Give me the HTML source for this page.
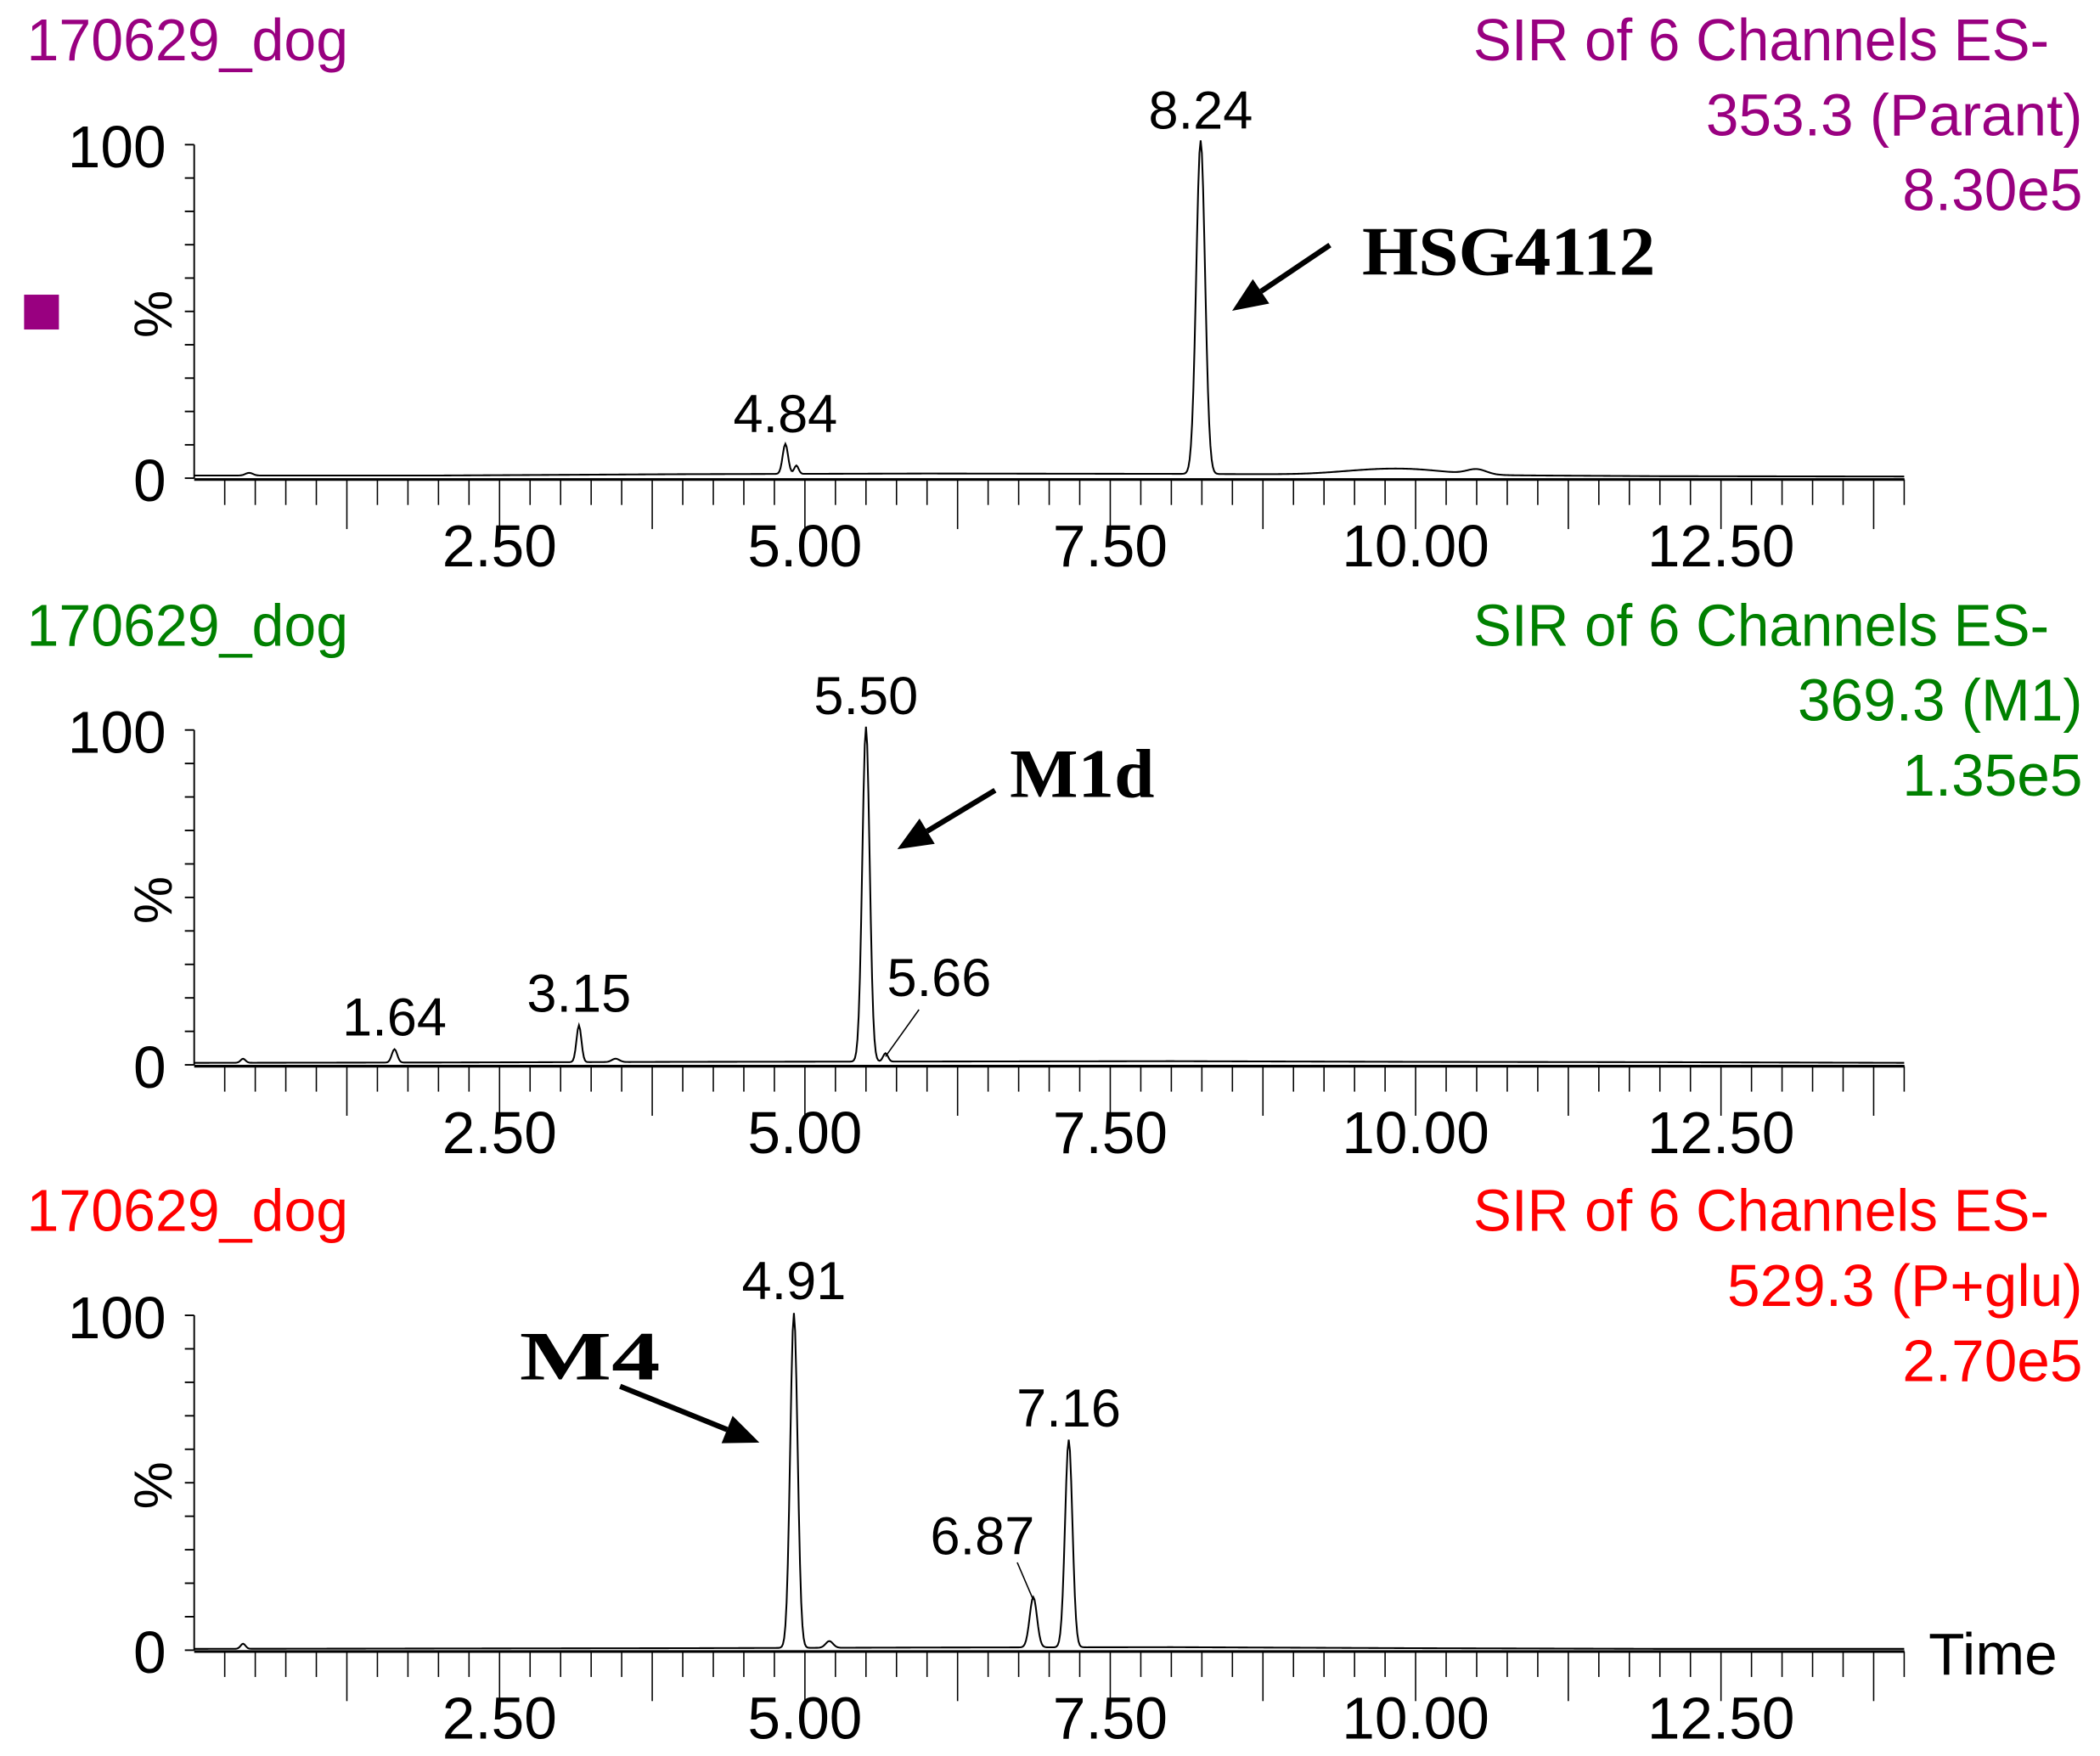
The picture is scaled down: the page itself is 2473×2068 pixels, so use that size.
<!DOCTYPE html>
<html><head><meta charset="utf-8"><style>
html,body{margin:0;padding:0;background:#fff;}
svg{display:block;}
text{font-family:"Liberation Sans",sans-serif;}
.ser{font-family:"Liberation Serif",serif;font-weight:bold;}
</style></head><body>
<svg id="chart" width="2473" height="2068" viewBox="0 0 1568 1311" preserveAspectRatio="none" xmlns="http://www.w3.org/2000/svg">
<rect x="0" y="0" width="1568" height="1311" fill="#fff"/>
<g id="root"></g>
</svg>
<script>
// ---- data ----
const xTickLabels = ["2.50","5.00","7.50","10.00","12.50"];
const xTickValues = [2.5,5,7.5,10,12.5];
const yTickLabels = ["0","100"];
const panelTitles = ["SIR of 6 Channels ES-","SIR of 6 Channels ES-","SIR of 6 Channels ES-"];
const panelChannels = ["353.3 (Parant)","369.3 (M1)","529.3 (P+glu)"];
const panelIntensity = ["8.30e5","1.35e5","2.70e5"];
const panelColors = ["#990080","#008000","#ff0000"];
// peaks: retention times, heights (%), widths (sigma, min)
const p1Times = [0.45,4.84,4.93,8.24,9.6,10.0,10.5];
const p1Heights = [0.8,9,2.5,100,1.0,1.3,1.5];
const p1Widths = [0.03,0.022,0.018,0.036,0.3,0.3,0.08];
const p1Base = [0.8,0.8,1.2,1.4,1.3,1.0,0.6,0.5];
const p2Times = [0.4,1.64,3.15,3.45,5.50,5.66];
const p2Heights = [1.2,4,11,1,100,2.5];
const p2Widths = [0.02,0.022,0.02,0.03,0.03,0.02];
const p2Base = [0.6,0.7,0.9,1.0,1.1,0.9,0.8,0.6];
const p3Times = [0.4,4.91,5.2,6.87,7.16];
const p3Heights = [1.5,100,2,15,62];
const p3Widths = [0.02,0.03,0.03,0.03,0.03];
const p3Base = [0.4,0.5,0.6,0.8,0.9,0.6,0.4,0.4];
const p1Labels = [["4.84",4.84,9],["8.24",8.24,100]];
const p2Labels = [["1.64",1.64,4],["3.15",3.15,11],["5.50",5.50,100],["5.66",5.66,2.5]];
const p3Labels = [["4.91",4.91,100],["6.87",6.87,15],["7.16",7.16,62]];

const NS="http://www.w3.org/2000/svg";
const root=document.getElementById('root');
function mk(tag,attrs,parent){const e=document.createElementNS(NS,tag);for(const k in attrs)e.setAttribute(k,attrs[k]);(parent||root).appendChild(e);return e;}
const X0=145,X1=1422,PX=91.2;
function xs(t){return X0+t*PX;}
const panels=[
 {y100:108,y0:357,times:p1Times,h:p1Heights,w:p1Widths,base:p1Base,labels:p1Labels,ty:45},
 {y100:545,y0:795,times:p2Times,h:p2Heights,w:p2Widths,base:p2Base,labels:p2Labels,ty:482},
 {y100:982,y0:1232,times:p3Times,h:p3Heights,w:p3Widths,base:p3Base,labels:p3Labels,ty:919}
];
panels.forEach((p,i)=>{
 const g=mk('g',{});
 
 
 const ys=v=>p.y0-(v/100)*(p.y0-p.y100);
 const c=panelColors[i];
 let t=mk('text',{x:20,y:p.ty,'font-size':44,fill:c,textLength:240,lengthAdjust:'spacingAndGlyphs'},g);t.textContent="170629_dog";
 
 t=mk('text',{x:1100,y:p.ty,'font-size':44,fill:c,textLength:430,lengthAdjust:'spacingAndGlyphs'},g);t.textContent=panelTitles[i];
 
 t=mk('text',{x:1555,y:p.ty+56,'font-size':44,fill:c,'text-anchor':'end'},g);t.textContent=panelChannels[i];
 
 t=mk('text',{x:1555,y:p.ty+112,'font-size':44,fill:c,'text-anchor':'end'},g);t.textContent=panelIntensity[i];
 
 // y axis
 let a=mk('line',{x1:X0,y1:p.y100,x2:X0,y2:p.y0,stroke:'#000','stroke-width':1.2},g);
 
 for(let k=0;k<=10;k++){mk('line',{x1:X0-7,x2:X0,y1:ys(k*10),y2:ys(k*10),stroke:'#000','stroke-width':1.2},g);}
 t=mk('text',{x:124,y:p.y100+17,'font-size':44,'text-anchor':'end'},g);t.textContent=yTickLabels[1];
 
 t=mk('text',{x:124,y:p.y0+17,'font-size':44,'text-anchor':'end'},g);t.textContent=yTickLabels[0];
 
 t=mk('text',{x:0,y:0,'font-size':40,'text-anchor':'middle',transform:`translate(128,${(p.y0+p.y100)/2+2}) rotate(-90)`},g);t.textContent="%";
 
 // x axis
 a=mk('line',{x1:X0,y1:p.y0+1,x2:X1,y2:p.y0+1,stroke:'#000','stroke-width':2},g);
 
 for(let k=1;k*0.25<=14.0;k++){const tv=k*0.25;const big=(k%5===0);
  mk('line',{x1:xs(tv),x2:xs(tv),y1:p.y0+1,y2:p.y0+(big?38:20),stroke:'#000','stroke-width':1},g);}
 xTickValues.forEach((v,j)=>{const tt=mk('text',{x:xs(v),y:p.y0+66,'font-size':44,'text-anchor':'middle'},g);tt.textContent=xTickLabels[j];
  });
 // trace
 let d='';
 for(let s=0;s<=1400;s++){const tv=s*0.01;
  const f=tv/2,bi=Math.min(p.base.length-2,Math.floor(f)),fr=f-bi;
  let v=p.base[bi]*(1-fr)+p.base[bi+1]*fr;
  for(let m=0;m<p.times.length;m++){const z=(tv-p.times[m])/p.w[m];v+=p.h[m]*Math.exp(-0.5*z*z);}
  d+=(s?'L':'M')+xs(tv).toFixed(2)+','+ys(v).toFixed(2);}
 const tr=mk('path',{d:d,fill:'none',stroke:'#000','stroke-width':1.3},g);
 
 p.labels.forEach(L=>{
  let lx=xs(L[1]),ly=ys(L[2])-12;
  if(L[0]==="5.66"){lx=xs(5.66)+40;ly=ys(2.5)-45;mk('line',{x1:xs(5.66),y1:ys(2.5),x2:lx-15,y2:ly+10,stroke:'#000','stroke-width':1},g);}
  if(L[0]==="6.87"){lx=xs(6.87)-38;ly=ys(15)-34;mk('line',{x1:xs(6.87),y1:ys(15),x2:xs(6.87)-12,y2:ly+6,stroke:'#000','stroke-width':1},g);}
  const tt=mk('text',{x:lx,y:ly,'font-size':40,'text-anchor':'middle'},g);tt.textContent=L[0];
  
 });
});
// annotations
function arrow(x1,y1,x2,y2,name){
 const g=mk('g',{});
 
 const dx=x2-x1,dy=y2-y1,L=Math.hypot(dx,dy),ux=dx/L,uy=dy/L;
 const bx=x2-ux*26,by=y2-uy*26;
 mk('line',{x1:x1,y1:y1,x2:bx,y2:by,stroke:'#000','stroke-width':4},g);
 mk('polygon',{points:`${x2},${y2} ${bx-uy*11},${by+ux*11} ${bx+uy*11},${by-ux*11}`,fill:'#000'},g);
}
arrow(993,183,920,232,'hsg4112-arrow');
arrow(743,590,670,634,'m1d-arrow');
arrow(463,1035,567,1077,'m4-arrow');
let t=mk('text',{x:1017,y:205,'font-size':52,class:'ser',textLength:219,lengthAdjust:'spacingAndGlyphs'});t.textContent="HSG4112";

t=mk('text',{x:754,y:595,'font-size':52,class:'ser',textLength:108,lengthAdjust:'spacingAndGlyphs'});t.textContent="M1d";

t=mk('text',{x:388,y:1030,'font-size':52,class:'ser',textLength:105,lengthAdjust:'spacingAndGlyphs'});t.textContent="M4";

t=mk('text',{x:1440,y:1250,'font-size':44});t.textContent="Time";

const sq=mk('rect',{x:18,y:220,width:26,height:26,fill:'#990080'});

</script>
</body></html>
